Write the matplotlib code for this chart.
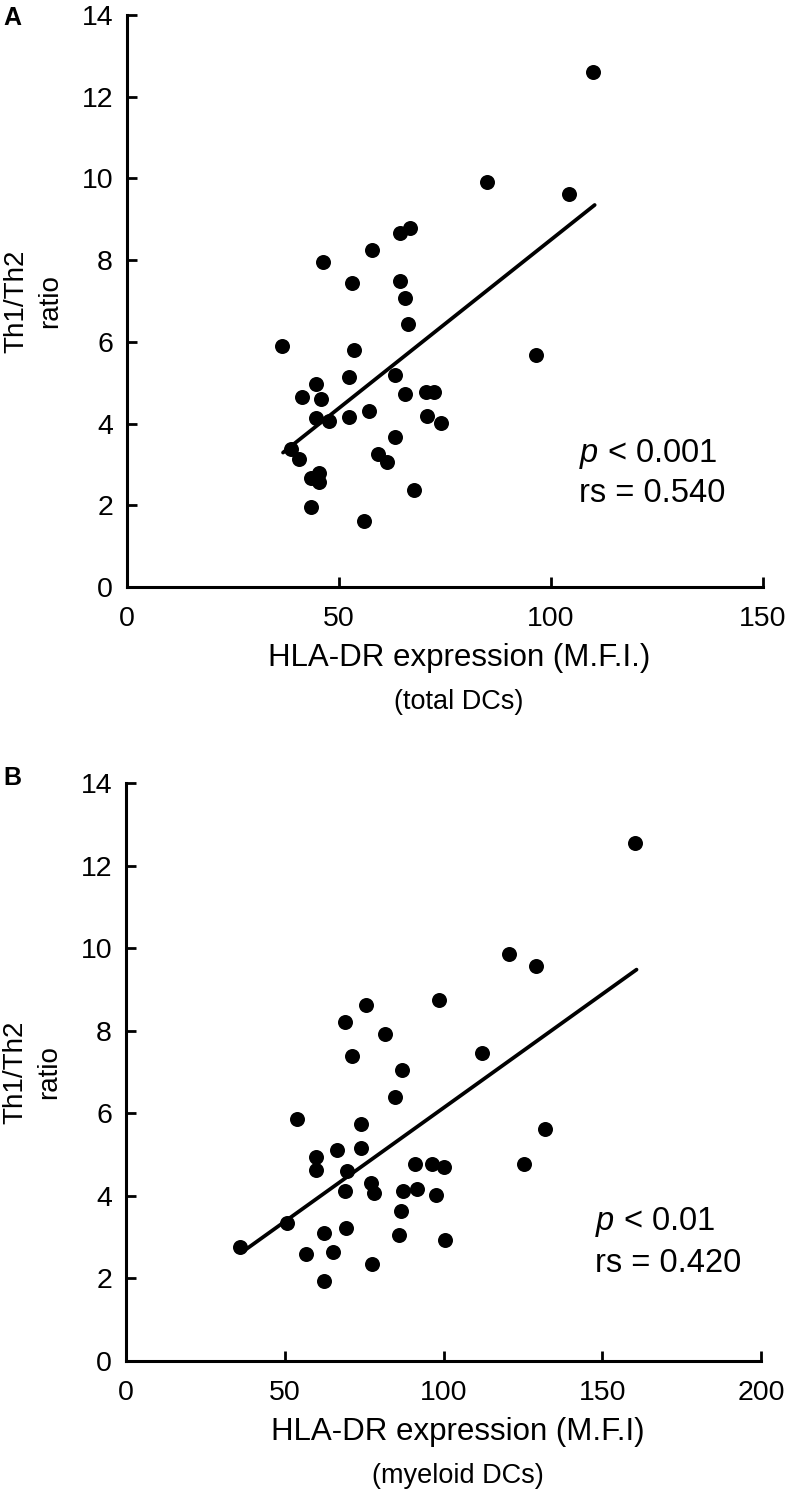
import numpy as np
import matplotlib
matplotlib.use('Agg')
import matplotlib.pyplot as plt

plt.rcParams['font.family'] = ['Liberation Sans', 'DejaVu Sans']
plt.rcParams['mathtext.fontset'] = 'custom'
plt.rcParams['mathtext.it'] = 'Liberation Sans:italic'
plt.rcParams['mathtext.rm'] = 'Liberation Sans'

# panel A: total DCs
hla_total = [36.6, 38.6, 40.5, 41.2, 43.3, 43.3, 44.5, 44.5, 45.3, 45.3,
             45.7, 46.2, 47.6, 52.4, 52.4, 53.0, 53.6, 55.9, 57.1, 57.7,
             59.3, 61.4, 63.2, 63.2, 64.4, 64.4, 65.6, 65.6, 66.2, 66.7,
             67.8, 70.5, 72.5, 70.7, 74.1, 84.9, 96.4, 104.3, 110.0]
ratio_total = [5.90, 3.38, 3.13, 4.66, 2.66, 1.97, 4.96, 4.13, 2.80, 2.58,
               4.60, 7.96, 4.07, 5.13, 4.15, 7.43, 5.80, 1.62, 4.31, 8.26,
               3.26, 3.07, 5.19, 3.68, 8.67, 7.49, 7.08, 4.72, 6.44, 8.78,
               2.37, 4.78, 4.78, 4.19, 4.02, 9.91, 5.68, 9.61, 12.61]
fit_total_x = [36.8, 110.3]
fit_total_y = [3.29, 9.35]

# panel B: myeloid DCs
hla_myeloid = [160.3, 120.6, 129.0, 75.7, 68.9, 98.6, 81.7, 71.2, 87.0, 112.2,
               84.8, 54.0, 74.1, 132.0, 66.6, 74.1, 59.7, 59.7, 69.6, 90.9,
               96.4, 100.0, 125.2, 68.9, 77.1, 78.0, 87.1, 91.6, 97.7, 86.7,
               50.7, 62.3, 69.2, 86.0, 100.5, 36.0, 56.8, 65.2, 77.5, 62.3]
ratio_myeloid = [12.55, 9.86, 9.56, 8.63, 8.21, 8.74, 7.93, 7.39, 7.04, 7.45,
                 6.40, 5.87, 5.75, 5.63, 5.11, 5.17, 4.95, 4.63, 4.59, 4.77,
                 4.77, 4.69, 4.77, 4.12, 4.32, 4.08, 4.12, 4.16, 4.02, 3.64,
                 3.34, 3.11, 3.22, 3.05, 2.93, 2.75, 2.59, 2.63, 2.34, 1.94]
fit_myeloid_x = [36.8, 160.8]
fit_myeloid_y = [2.65, 9.48]

yticks = [0, 2, 4, 6, 8, 10, 12, 14]

fig = plt.figure(figsize=(7.87, 14.99), dpi=100)
axA = fig.add_axes([127/787, 1 - 587/1499, 636/787, 572/1499])
axB = fig.add_axes([126/787, 1 - 1361/1499, 635/787, 578/1499])

ax_x = {axA: hla_total, axB: hla_myeloid}
ax_y = {axA: ratio_total, axB: ratio_myeloid}
fit_x = {axA: fit_total_x, axB: fit_myeloid_x}
fit_y = {axA: fit_total_y, axB: fit_myeloid_y}


def style_panel(ax, xmax, xstep, xlabel, sublabel, stats, stat_pos):
    ax.plot(ax_x[ax], ax_y[ax], 'o', color='black', ms=10.8, mec='none')
    ax.plot(fit_x[ax], fit_y[ax], '-', color='black', lw=2.7,
            solid_capstyle='round')
    ax.set_xlim(0, xmax)
    ax.set_ylim(0, 14)
    ax.set_xticks(np.arange(0, xmax + 1, xstep))
    ax.set_yticks(yticks)
    for side in ['top', 'right']:
        ax.spines[side].set_visible(False)
    for side in ['left', 'bottom']:
        ax.spines[side].set_linewidth(2.2)
    ax.tick_params(axis='both', direction='in', length=7.5, width=2,
                   labelsize=20.5)
    ax.tick_params(axis='x', pad=14)
    ax.tick_params(axis='y', pad=10)
    # x label plus the sub-label underneath
    ax.annotate(xlabel, xy=(0.5, 0), xycoords='axes fraction',
                xytext=(10, -51), textcoords='offset points',
                ha='center', va='center', fontsize=22.5)
    ax.annotate(sublabel, xy=(0.5, 0), xycoords='axes fraction',
                xytext=(10, -83), textcoords='offset points',
                ha='center', va='center', fontsize=19.5)
    ax.annotate('Th1/Th2\nratio', xy=(0, 0.5), xycoords='axes fraction',
                xytext=(-67.5, 0), textcoords='offset points',
                ha='center', va='center', rotation=90, fontsize=20,
                linespacing=1.35, multialignment='center')
    x0, y1, y2 = stat_pos
    ax.text(x0, y1, stats[0], fontsize=23.5, va='baseline', ha='left')
    ax.text(x0, y2, stats[1], fontsize=23.5, va='baseline', ha='left')


style_panel(axA, 150, 50, 'HLA-DR expression (M.F.I.)', '(total DCs)',
            ['$p$ < 0.001', 'rs = 0.540'], (106.5, 3.07, 2.09))
style_panel(axB, 200, 50, 'HLA-DR expression (M.F.I)', '(myeloid DCs)',
            ['$p$ < 0.01', 'rs = 0.420'], (147.7, 3.17, 2.16))

fig.text(3/787, 1 - 25/1499, 'A', fontsize=18, fontweight='bold',
         ha='left', va='baseline')
fig.text(3/787, 1 - 785/1499, 'B', fontsize=18, fontweight='bold',
         ha='left', va='baseline')

fig.savefig('out.png', dpi=100)
